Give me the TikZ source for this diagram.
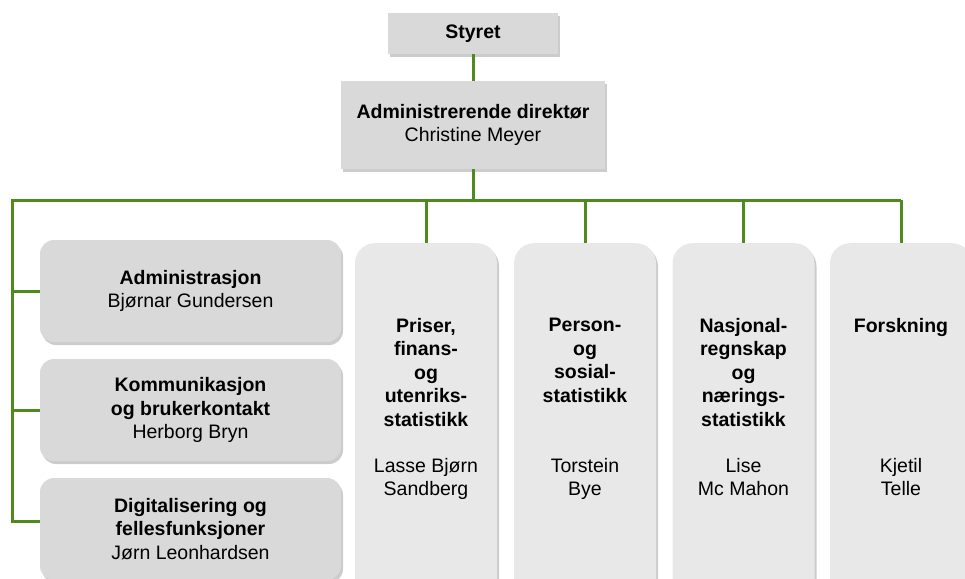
\documentclass[tikz,border=0pt]{standalone}
\usepackage{fontspec}
\setmainfont{Liberation Sans}
\usetikzlibrary{shadows}
\definecolor{ssbgreen}{HTML}{4E8A1E}
\definecolor{boxgrey}{HTML}{D9D9D9}
\definecolor{unitgrey}{HTML}{E8E8E8}
\newcommand\orgfont{\fontsize{19.5}{23.5}\selectfont}

\begin{document}
\begin{tikzpicture}[x=1pt,y=-1pt,font=\orgfont,
  line/.style={draw=ssbgreen,line width=3pt},
  boss/.style={fill=boxgrey,align=center,inner sep=0pt,
    drop shadow={shadow xshift=2pt,shadow yshift=-3pt,fill=black!40,opacity=.5}},
  staff/.style={boss,rounded corners=14pt,minimum width=301pt,minimum height=102pt},
  unit/.style={boss,fill=unitgrey,rounded corners=20pt,minimum width=142pt,minimum height=360pt,anchor=north},
  txt/.style={align=center,inner sep=0pt,anchor=north}]
\useasboundingbox (0,0) rectangle (965,578);
\clip (0,0) rectangle (965,578);

% top of the chart
\node[boss,minimum width=170pt,minimum height=41pt] (styret) at (473,33.5) {\textbf{Styret}};
\node[boss,minimum width=264pt,minimum height=88pt] (dir) at (473,125) {\textbf{Administrerende direktør}\\Christine Meyer};
\coordinate (bus) at (473,200);
\coordinate (busL) at (12,200);
\coordinate (busR) at (901,200);
\draw[line] (styret) -- (dir);
\draw[line] (dir) -- (bus);

% staff units on the left
\node[staff] (admin) at (190.5,291) {\textbf{Administrasjon}\\Bjørnar Gundersen};
\node[staff] (komm) at (190.5,410) {\textbf{Kommunikasjon}\\\textbf{og brukerkontakt}\\Herborg Bryn};
\node[staff] (digi) at (190.5,529) {\textbf{Digitalisering og}\\\textbf{fellesfunksjoner}\\Jørn Leonhardsen};
\draw[line] (busR) -- (busL) |- (admin.west);
\draw[line] (busL) |- (komm.west);
\draw[line] (busL) |- ([yshift=8pt]digi.west);

% departments
\foreach \nm/\x/\tit/\who in {pris/426/{Priser,\\finans-\\og\\utenriks-\\statistikk}/{Lasse Bjørn\\Sandberg},
  pers/585/{Person-\\og\\sosial-\\statistikk}/{Torstein\\Bye},
  nasj/743.5/{Nasjonal-\\regnskap\\og\\nærings-\\statistikk}/{Lise\\Mc Mahon},
  fors/901/{Forskning}/{Kjetil\\Telle}} {
  \node[unit] (\nm) at (\x,243) {};
  \node[txt,font=\orgfont\bfseries] (\nm-t) at (\x,318) {\tit};
  \node[txt] (\nm-n) at (\x,458) {\who};
  \draw[line] (\nm.north |- bus) -- (\nm.north);
}
\end{tikzpicture}
\end{document}
